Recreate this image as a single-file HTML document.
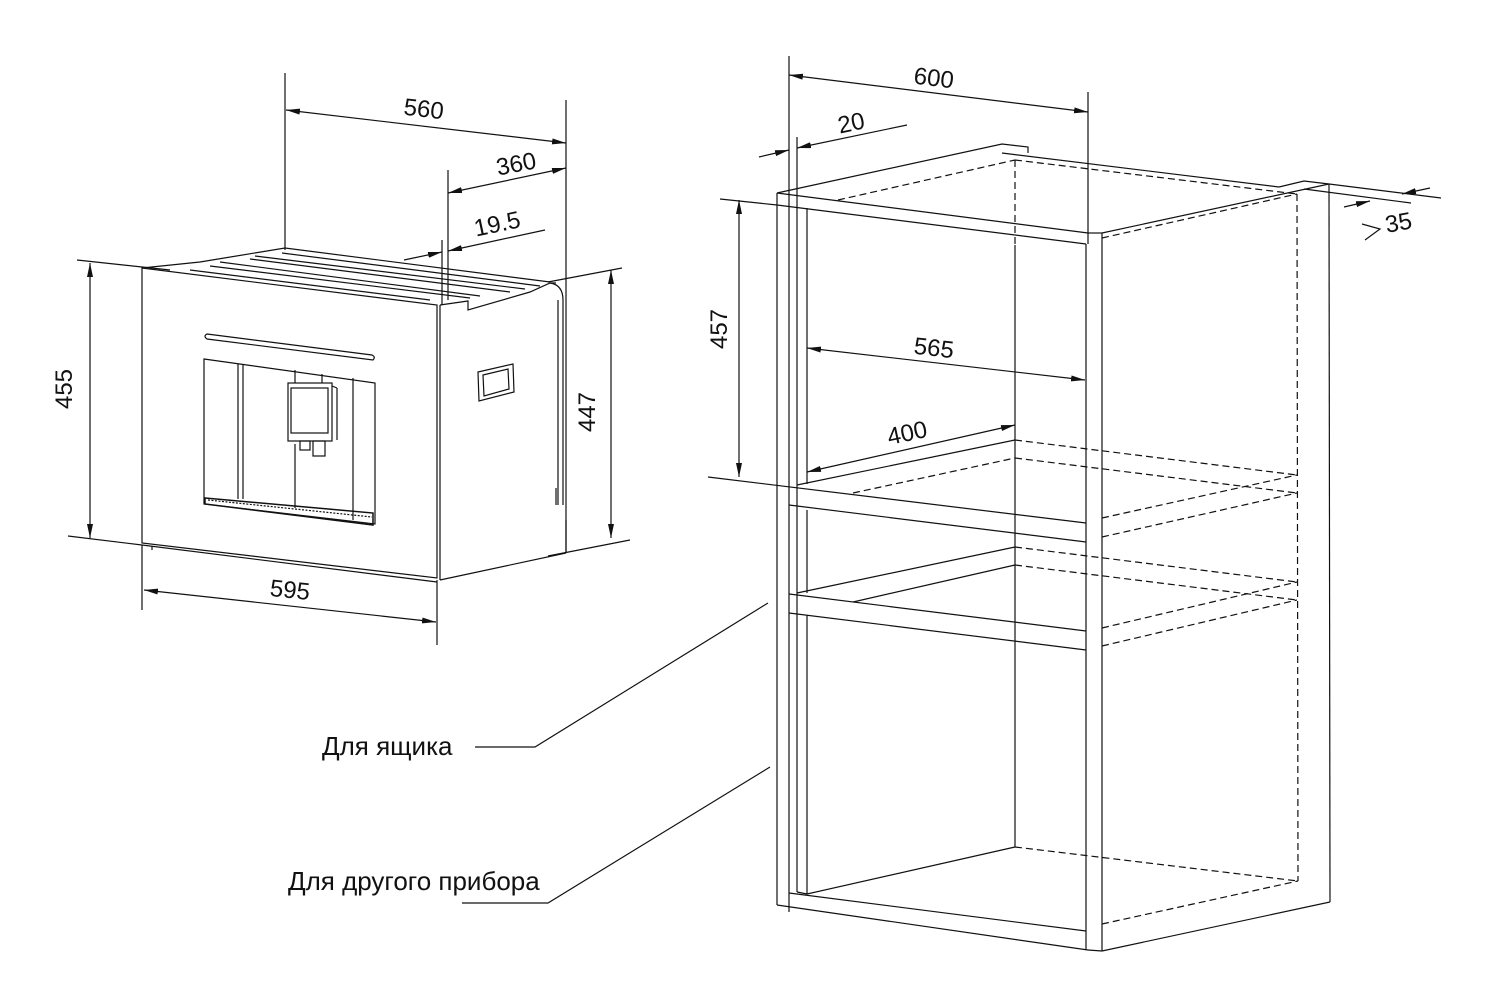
<!DOCTYPE html>
<html><head><meta charset="utf-8"><style>
html,body{margin:0;padding:0;background:#fff;}
svg{display:block}
text{font-family:"Liberation Sans",Arial,sans-serif;fill:#111;}
</style></head><body>
<svg width="1500" height="1000" viewBox="0 0 1500 1000" xmlns="http://www.w3.org/2000/svg">
<defs>
<marker id="a" viewBox="0 0 14 6" refX="14" refY="3" markerWidth="14" markerHeight="6" orient="auto-start-reverse" markerUnits="userSpaceOnUse">
<path d="M0,0 L14,3 L0,6 z" fill="#111"/></marker>
</defs>
<g stroke="#111" stroke-width="1.2" fill="none">
<line x1="285" y1="73" x2="285" y2="250"/>
<line x1="566" y1="100" x2="566" y2="553"/>
<line x1="448" y1="170" x2="448" y2="300"/>
<line x1="442" y1="240" x2="442" y2="305"/>
<line x1="286" y1="110" x2="566" y2="143" marker-start="url(#a)" marker-end="url(#a)"/>
<line x1="448" y1="193" x2="566" y2="168" marker-start="url(#a)" marker-end="url(#a)"/>
<line x1="404" y1="260" x2="442" y2="252" marker-end="url(#a)"/>
<line x1="545" y1="230" x2="448" y2="251" marker-end="url(#a)"/>
<line x1="77" y1="260" x2="170" y2="270"/>
<line x1="68" y1="536" x2="142" y2="545"/>
<line x1="90" y1="263" x2="90" y2="538" marker-start="url(#a)" marker-end="url(#a)"/>
<line x1="548" y1="282" x2="622" y2="268"/>
<line x1="548" y1="556" x2="630" y2="540"/>
<line x1="611" y1="270" x2="611" y2="538" marker-start="url(#a)" marker-end="url(#a)"/>
<line x1="142" y1="545" x2="142" y2="610"/>
<line x1="437" y1="580" x2="437" y2="645"/>
<line x1="144" y1="590" x2="436" y2="622" marker-start="url(#a)" marker-end="url(#a)"/>
<polygon points="142,268 437,305 437,578 142,543"/>
<line x1="440" y1="305" x2="440" y2="580"/>
<line x1="142" y1="545" x2="437" y2="582"/>
<line x1="152" y1="546" x2="152" y2="550"/>
<polyline points="440,305 468,301 468,310 530,292 550,283 556,283"/>
<path d="M550,283 Q563,285 563,300 L563,505"/>
<line x1="558" y1="300" x2="558" y2="505"/>
<line x1="556" y1="488" x2="556" y2="505"/>
<line x1="440" y1="580" x2="566" y2="553"/>
<line x1="566" y1="520" x2="566" y2="553"/>
<polyline points="142,268 200,262 285,248 550,282"/>
<line x1="190" y1="270" x2="430" y2="300"/>
<line x1="210" y1="266" x2="470" y2="298"/>
<line x1="220" y1="262" x2="480" y2="296"/>
<line x1="250" y1="259" x2="510" y2="292"/>
<line x1="255" y1="256" x2="525" y2="289"/>
<line x1="282" y1="253" x2="540" y2="286"/>
<path d="M207,334 L372,355 Q376,357 373,360 L207,339 Q203,336 207,334 z"/>
<polygon points="204,359 375,383 375,524 204,504"/>
<line x1="238" y1="364" x2="238" y2="499"/>
<line x1="243" y1="364" x2="243" y2="499"/>
<line x1="353" y1="378" x2="353" y2="520"/>
<line x1="295" y1="444" x2="295" y2="508"/>
<line x1="295" y1="370" x2="295" y2="384"/>
<line x1="322" y1="374" x2="322" y2="386"/>
<rect x="288" y="383" width="44" height="58" fill="#fff"/>
<line x1="332" y1="386" x2="337" y2="388"/>
<line x1="337" y1="388" x2="337" y2="440"/>
<rect x="291" y="388" width="37" height="45"/>
<rect x="300" y="441" width="10" height="9"/>
<rect x="313" y="441" width="12" height="15"/>
<polygon points="205,498 373,513 373,525 205,504" stroke-width="1.5"/>
<line x1="208" y1="500" x2="372" y2="517" stroke-dasharray="2 1.5"/>
<polygon points="478,372 513,364 514,392 479,401"/>
<polygon points="483,375 508,369 509,389 484,396"/>
<line x1="777" y1="193" x2="777" y2="905"/>
<line x1="789" y1="56" x2="789" y2="912"/>
<line x1="797" y1="137" x2="797" y2="892"/>
<line x1="807" y1="208" x2="807" y2="484"/>
<line x1="807" y1="510" x2="807" y2="593"/>
<line x1="807" y1="615" x2="807" y2="894"/>
<line x1="1088" y1="92" x2="1088" y2="244"/>
<line x1="1086" y1="244" x2="1086" y2="950"/>
<line x1="1102" y1="233" x2="1102" y2="951"/>
<line x1="1329" y1="184" x2="1330" y2="902"/>
<line x1="1015" y1="245" x2="1015" y2="847"/>
<line x1="1015" y1="160" x2="1015" y2="245" stroke-dasharray="7 4"/>
<line x1="1297" y1="194" x2="1298" y2="881" stroke-dasharray="7 4"/>
<polyline points="777,193 1002,144 1028,147 1028,153"/>
<line x1="1002" y1="153" x2="1279" y2="187"/>
<polyline points="1279,187 1304,181 1329,184"/>
<line x1="777" y1="193" x2="1088" y2="233"/>
<line x1="777" y1="205" x2="1086" y2="244"/>
<line x1="720" y1="199" x2="777" y2="205"/>
<line x1="1088" y1="233" x2="1102" y2="233"/>
<line x1="1102" y1="233" x2="1329" y2="184"/>
<line x1="838" y1="200" x2="1015" y2="160" stroke-dasharray="7 4"/>
<line x1="1015" y1="160" x2="1297" y2="194" stroke-dasharray="7 4"/>
<line x1="1102" y1="238" x2="1297" y2="194" stroke-dasharray="7 4"/>
<line x1="708" y1="477" x2="1086" y2="523"/>
<line x1="789" y1="505" x2="1086" y2="542"/>
<line x1="797" y1="485" x2="1015" y2="440"/>
<line x1="853" y1="493" x2="1015" y2="458" stroke-dasharray="7 4"/>
<line x1="1015" y1="440" x2="1297" y2="475" stroke-dasharray="7 4"/>
<line x1="1015" y1="458" x2="1297" y2="493" stroke-dasharray="7 4"/>
<line x1="1102" y1="518" x2="1297" y2="475" stroke-dasharray="7 4"/>
<line x1="1102" y1="537" x2="1297" y2="493" stroke-dasharray="7 4"/>
<line x1="789" y1="594" x2="1086" y2="631"/>
<line x1="789" y1="613" x2="1086" y2="650"/>
<line x1="797" y1="593" x2="1015" y2="547"/>
<line x1="853" y1="602" x2="1015" y2="565"/>
<line x1="1015" y1="547" x2="1297" y2="582" stroke-dasharray="7 4"/>
<line x1="1015" y1="565" x2="1297" y2="600" stroke-dasharray="7 4"/>
<line x1="1102" y1="628" x2="1297" y2="582" stroke-dasharray="7 4"/>
<line x1="1102" y1="646" x2="1297" y2="600" stroke-dasharray="7 4"/>
<line x1="777" y1="905" x2="1088" y2="950"/>
<line x1="789" y1="893" x2="1086" y2="931"/>
<line x1="797" y1="892" x2="807" y2="894"/>
<line x1="807" y1="894" x2="1015" y2="847"/>
<line x1="1015" y1="847" x2="1298" y2="881" stroke-dasharray="7 4"/>
<line x1="1102" y1="924" x2="1298" y2="881" stroke-dasharray="7 4"/>
<line x1="1088" y1="950" x2="1102" y2="951"/>
<line x1="1102" y1="951" x2="1330" y2="902"/>
<line x1="789" y1="75" x2="1088" y2="112" marker-start="url(#a)" marker-end="url(#a)"/>
<line x1="759" y1="157" x2="789" y2="150" marker-end="url(#a)"/>
<line x1="907" y1="125" x2="797" y2="148" marker-end="url(#a)"/>
<line x1="739" y1="200" x2="739" y2="477" marker-start="url(#a)" marker-end="url(#a)"/>
<line x1="807" y1="348" x2="1085" y2="380" marker-start="url(#a)" marker-end="url(#a)"/>
<line x1="807" y1="472" x2="1015" y2="425" marker-start="url(#a)" marker-end="url(#a)"/>
<line x1="1329" y1="184" x2="1441" y2="198"/>
<line x1="1304" y1="189" x2="1411" y2="203"/>
<line x1="1344" y1="207" x2="1370" y2="201" marker-end="url(#a)"/>
<line x1="1430" y1="188" x2="1402" y2="194" marker-end="url(#a)"/>
<polyline points="475,747 535,747 768,603"/>
<polyline points="462,903 548,903 770,767"/>
</g>
<g font-size="24">
<text x="424" y="117" text-anchor="middle" transform="rotate(6.6 424 107)">560</text>
<text x="516" y="172" text-anchor="middle" transform="rotate(-11 516 163)">360</text>
<text x="497" y="232" text-anchor="middle" transform="rotate(-12 497 223)">19.5</text>
<text x="81" y="398" text-anchor="middle" transform="rotate(-90 72 398)">455</text>
<text x="604" y="421" text-anchor="middle" transform="rotate(-90 595 421)">447</text>
<text x="290" y="598" text-anchor="middle" transform="rotate(6 290 590)">595</text>
<text x="934" y="86" text-anchor="middle" transform="rotate(7 934 77)">600</text>
<text x="851" y="131" text-anchor="middle" transform="rotate(-12 851 122)">20</text>
<text x="736" y="338" text-anchor="middle" transform="rotate(-90 727 338)">457</text>
<text x="934" y="356" text-anchor="middle" transform="rotate(6.6 934 347)">565</text>
<text x="907" y="441" text-anchor="middle" transform="rotate(-12 907 432)">400</text>
<text x="1385" y="233" text-anchor="start" transform="rotate(-10 1385 223)">35</text>
</g>
<polyline points="1362,224 1380,229 1365,240" fill="none" stroke="#111" stroke-width="1.2"/>
<g font-size="26">
<text x="322" y="755">Для ящика</text>
<text x="288" y="890">Для другого прибора</text>
</g>
</svg>
</body></html>
